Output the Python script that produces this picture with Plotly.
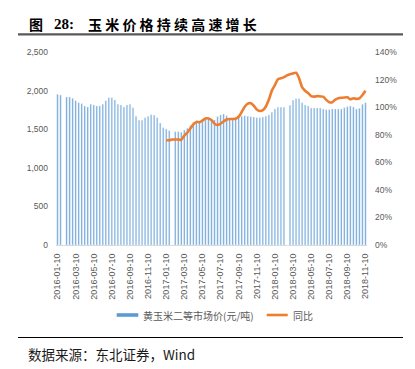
import plotly.graph_objects as go

# ---- data ----
months = [(y, m) for y in (2016, 2017, 2018) for m in range(1, 13)]
categories = []
for (y, m) in months:
    for d in ("10", "20", "30"):
        categories.append(f"{y}-{m:02d}-{d}")
categories = categories[:categories.index("2018-11-10") + 1]

price = [1952, 1942, None, 1917, 1917, 1900, 1869, 1843, 1830, 1800,
         1787, 1822, 1813, 1800, 1800, 1822, 1869, 1908, 1908, 1878,
         1822, 1813, 1787, 1813, 1822, 1778, 1667, 1615, 1615, 1649,
         1667, 1687, 1680, 1649, 1580, 1519, 1502, 1480, None, 1467,
         1467, 1459, 1489, 1511, 1545, 1589, 1606, 1606, 1623, 1649,
         1641, 1619, 1619, 1662, 1684, 1697, 1675, 1641, 1641, 1649,
         1654, 1667, 1675, 1667, 1662, 1658, 1649, 1649, 1658, 1667,
         1684, 1718, 1761, 1783, 1783, 1783, None, 1809, 1874, 1895,
         1895, 1843, 1813, 1800, 1774, 1774, 1774, 1774, 1761, 1752,
         1752, 1761, 1761, 1761, 1761, 1778, 1791, 1800, 1787, 1761,
         1770, 1822, 1843]

yoy_pct = [None] * 36 + [
    76.0, 76.0, 76.5, 76.5, 76.5, 76.3, 79.3, 81.5, 84.5, 87.5,
    89.3, 89.0, 90.3, 91.8, 91.8, 90.6, 88.0, 87.0, 88.0, 89.6,
    91.0, 91.4, 91.4, 91.6, 93.0, 96.5, 100.3, 102.6, 102.8, 101.0,
    98.3, 97.2, 97.8, 100.5, 105.5, 112.0, 116.0, 120.3, 120.9, 121.8,
    123.0, 123.9, 124.5, 125.0, 121.0, 114.5, 111.9, 110.2, 108.0, 107.6,
    108.0, 107.8, 107.6, 105.3, 103.6, 103.6, 105.5, 106.5, 106.8, 107.0,
    107.1, 105.7, 106.4, 106.0, 106.4, 108.8, 111.9]
yoy = [None if v is None else v / 100 for v in yoy_pct]

tick_labels = categories[::6]
bar_name = "黄玉米二等市场价(元/吨)"
line_name = "同比"
title_fig = "图"
title_num = "28:"
title_text = "玉米价格持续高速增长"
source_text = "数据来源：东北证券，Wind"

BLUE = "#5B9BD5"
ORANGE = "#ED7D31"
GRAY = "#595959"

# ---- layout (page body has an 8px margin; figure sized to fit the window) ----
OFF = 8
W, H = 415 - OFF, 369 - OFF
# plot area in window pixels: x 56..367, y 52..245
L, T = 56 - OFF, 52 - OFF
R, B = W - (367 - OFF), H - (245 - OFF)
PW, PH = W - L - R, H - T - B


def px(x):  # window pixel -> paper x
    return (x - OFF - L) / PW


def py(y):  # window pixel -> paper y
    return (H - B - (y - OFF)) / PH


fig = go.Figure()
fig.add_trace(go.Bar(x=categories, y=price, name=bar_name, marker_color=BLUE,
                     width=0.45, showlegend=False))
fig.add_trace(go.Scatter(x=categories, y=yoy, name=line_name, yaxis="y2",
                         mode="lines", connectgaps=True,
                         line=dict(color=ORANGE, width=2.6, shape="spline", smoothing=0.5),
                         showlegend=False))

tickfont = dict(family="Liberation Sans", size=8.5, color=GRAY)
fig.update_layout(
    width=W, height=H, margin=dict(l=L, r=R, t=T, b=B),
    paper_bgcolor="white", plot_bgcolor="white",
    xaxis=dict(type="category", tickmode="array", tickvals=tick_labels, ticktext=tick_labels,
               tickangle=-90, tickfont=dict(family="Liberation Sans", size=9, color=GRAY),
               showgrid=False, showline=True, linecolor="#D9D9D9", linewidth=1,
               ticks="", ticklabelstandoff=4, range=[-0.5, len(categories) - 0.5]),
    yaxis=dict(range=[0, 2500], dtick=500, tickformat=",", showgrid=False, zeroline=False,
               tickfont=tickfont, ticklabelstandoff=7),
    yaxis2=dict(range=[0, 1.4], dtick=0.2, tickformat=".0%", overlaying="y", side="right",
                showgrid=False, zeroline=False, tickfont=tickfont, ticklabelstandoff=7),
)

shapes = [
    dict(type="line", xref="paper", yref="paper", x0=px(18), x1=px(403), y0=py(34.3), y1=py(34.3),
         line=dict(color="#595959", width=2.2)),
    dict(type="line", xref="paper", yref="paper", x0=px(18), x1=px(403), y0=py(337.5), y1=py(337.5),
         line=dict(color="#000000", width=1)),
    dict(type="rect", xref="paper", yref="paper", x0=px(116.7), x1=px(138.3), y0=py(316.8), y1=py(313.2),
         fillcolor=BLUE, line=dict(width=0)),
    dict(type="line", xref="paper", yref="paper", x0=px(266.7), x1=px(287.7), y0=py(315), y1=py(315),
         line=dict(color=ORANGE, width=2.6)),
]
fig.update_layout(shapes=shapes)

cjk = "Noto Sans CJK SC"
ann = [
    dict(text=f"<b>{title_fig}</b>", x=px(27), y=py(24), xanchor="left", yanchor="middle",
         font=dict(family=cjk, size=14, color="black")),
    dict(text=f"<b>{title_num}</b>", x=px(52), y=py(24.5), xanchor="left", yanchor="middle",
         font=dict(family="Liberation Serif", size=15, color="black")),
    dict(text=f"<b><span style='letter-spacing:3.2px'>{title_text}</span></b>", x=px(86), y=py(24),
         xanchor="left", yanchor="middle", font=dict(family=cjk, size=14, color="black")),
    dict(text=bar_name, x=px(141), y=py(315), xanchor="left", yanchor="middle",
         font=dict(family=cjk, size=10, color=GRAY)),
    dict(text=line_name, x=px(290.5), y=py(315), xanchor="left", yanchor="middle",
         font=dict(family=cjk, size=10, color=GRAY)),
    dict(text=source_text, x=px(26), y=py(353.5), xanchor="left", yanchor="middle",
         font=dict(family=cjk, size=13.5, color="#1a1a1a")),
]
for a in ann:
    a.update(xref="paper", yref="paper", showarrow=False)
fig.update_layout(annotations=ann)

fig.write_html("out.html")
